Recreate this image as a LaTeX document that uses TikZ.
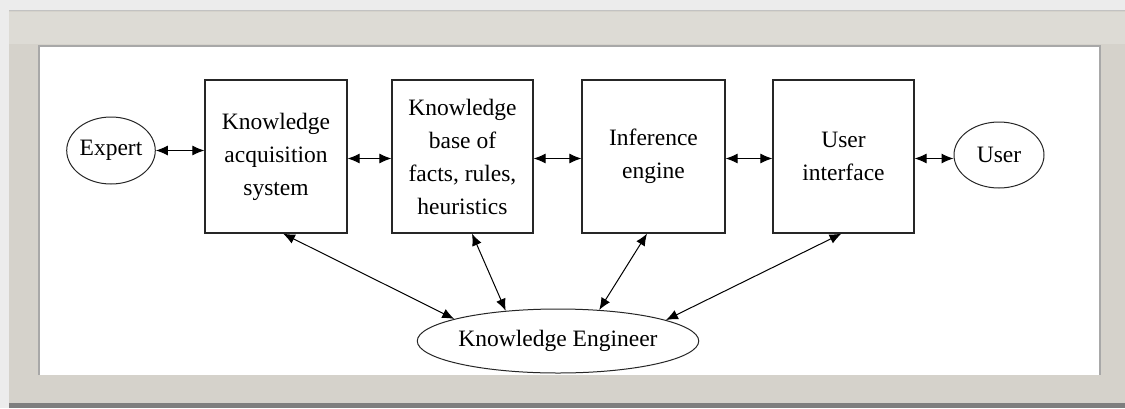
\documentclass[tikz,border=0pt]{standalone}
\usepackage{fontspec}
\setmainfont{Liberation Serif}
\usetikzlibrary{arrows.meta,shapes.geometric}
\definecolor{framegray}{HTML}{D5D2CB}
\definecolor{frametop}{HTML}{DDDBD5}
\definecolor{shadowgray}{HTML}{ECECEC}
\definecolor{darkshadow}{HTML}{7E7E7E}
\definecolor{bevel}{HTML}{A8A8A8}
\tikzset{
  box/.style={draw=black!85, line width=1.2pt, minimum height=153pt, inner sep=0pt, align=center, font=\fontsize{23.5}{33}\selectfont},
  oval/.style={draw=black!85, line width=1pt, ellipse, inner sep=0pt, font=\fontsize{23.5}{28}\selectfont},
  link/.style={line width=1pt, {Latex[length=12pt,width=10pt]}-{Latex[length=12pt,width=10pt]}}
}
\begin{document}
\begin{tikzpicture}[x=1pt,y=-1pt]
\useasboundingbox (0,0) rectangle (1125,408);
% background and frame
\fill[shadowgray] (0,0) rectangle (1125,408);
\fill[framegray] (9,10) rectangle (1125,403);
\fill[frametop] (9,12) rectangle (1125,44);
\fill[darkshadow] (9,403) rectangle (1125,408);
\draw[bevel!70, line width=1pt] (9,10.5) -- (1125,10.5);
\fill[white] (38,45) rectangle (1101,375);
\draw[bevel, line width=1.5pt] (39,375) -- (39,46) -- (1100,46) -- (1100,375);
% nodes
\node[oval, minimum width=88pt, minimum height=67pt] (expert) at (111,150.5) {Expert};
\node[box, minimum width=142pt] (kas) at (276,156.5) {Knowledge\\acquisition\\system};
\node[box, minimum width=141pt] (kb) at (462.5,156.5) {Knowledge\\base of\\facts, rules,\\heuristics};
\node[box, minimum width=143pt] (ie) at (653.5,156.5) {Inference\\engine};
\node[box, minimum width=141pt] (ui) at (843.5,156.5) {User\\interface};
\node[oval, minimum width=90pt, minimum height=66pt] (user) at (999,155) {User};
\node[oval, minimum width=277pt, minimum height=64pt] (ke) at (558,341) {Knowledge Engineer};
% horizontal links
\draw[link] (expert.east) -- (expert.east -| kas.west);
\draw[link] ([yshift=-2pt]kas.east) -- ([yshift=-2pt]kb.west);
\draw[link] ([yshift=-2pt]kb.east) -- ([yshift=-2pt]ie.west);
\draw[link] ([yshift=-2pt]ie.east) -- ([yshift=-2pt]ui.west);
\draw[link] ([yshift=-2pt]ui.east) -- ([yshift=-2pt]ui.east -| user.west);
% links to knowledge engineer
\draw[link] ([xshift=7pt]kas.south) -- (ke.168);
\draw[link] ([xshift=9.5pt]kb.south) -- (ke.150);
\draw[link] ([xshift=-6.5pt]ie.south) -- (ke.37);
\draw[link] ([xshift=-2pt]ui.south) -- (ke.11);
\end{tikzpicture}
\end{document}
